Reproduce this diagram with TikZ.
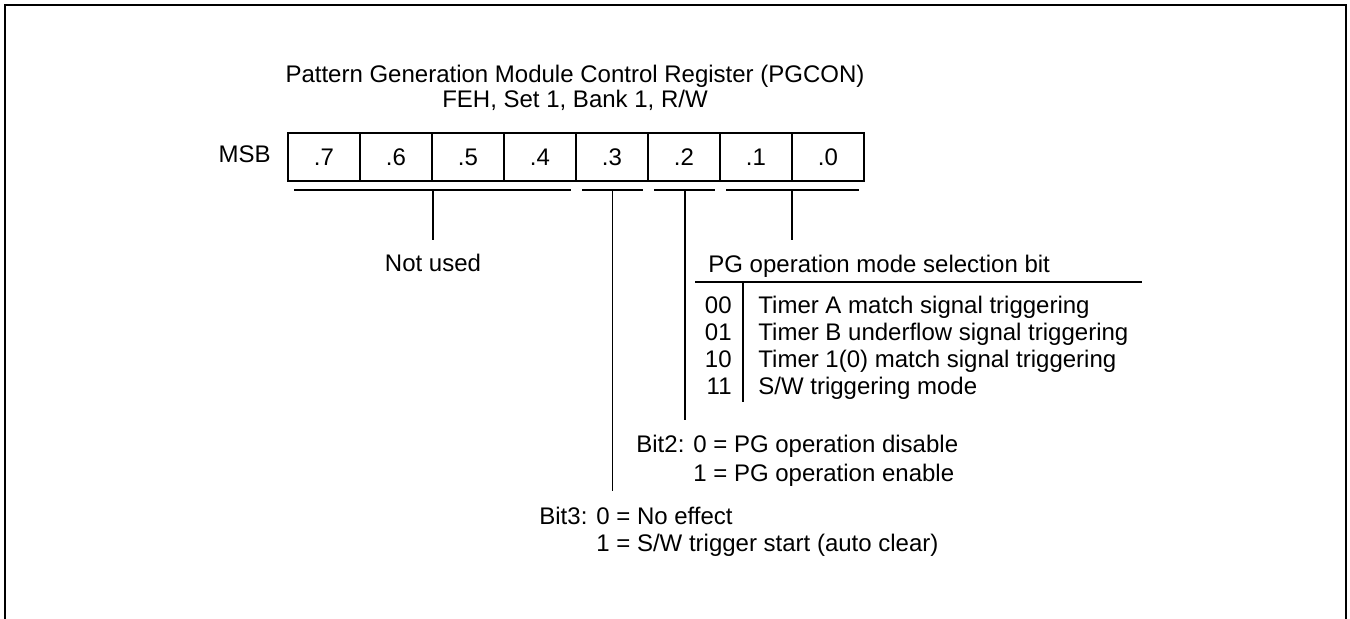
\documentclass[tikz,border=0pt]{standalone}
\usepackage{fontspec}
\setmainfont{Liberation Sans}
\usetikzlibrary{positioning}

\begin{document}
\begin{tikzpicture}[x=0.5pt,y=-0.5pt,
    txt/.style={inner sep=0pt,font=\fontsize{12}{14}\selectfont},
    bitbox/.style={draw,line width=0.6pt,minimum width=36pt,minimum height=24pt,inner sep=0pt},
    bitrule/.style={line width=0.6pt}]
  \useasboundingbox (0,0) rectangle (1350,619);

  % Outer frame (open at the bottom)
  \draw[line width=1.2pt] (5,619) -- (5,5) -- (1346,5) -- (1346,619);

  % Title
  \node[txt,anchor=base] (title) at (575,83) {Pattern Generation Module Control Register (PGCON)};
  \node[txt,anchor=base] (addr) at (575,108) {FEH, Set 1, Bank 1, R/W};

  % Register bits
  \node[txt,anchor=base east] (msb) at (271,163) {MSB};
  \foreach \b [count=\i from 0] in {7,...,0}
    \node[txt,bitbox] (b\b) at (324+72*\i,157) {.\b};

  % Bit groups
  \coordinate (g74) at (433,190);
  \coordinate (g3) at (612.5,190);
  \coordinate (g2) at (685,190);
  \coordinate (g10) at (792,190);
  \draw[bitrule] (294,190) -- (571,190);
  \draw[bitrule] (582,190) -- (643,190);
  \draw[bitrule] (654,190) -- (715,190);
  \draw[bitrule] (726,190) -- (859,190);

  % Not used
  \node[txt,anchor=base] (unused) at (433,272) {Not used};
  \coordinate (e74) at (433,240);
  \draw[bitrule] (g74) -- (e74);

  % PG operation mode table
  \node[txt,anchor=base west] (mode) at (708,273) {PG operation mode selection bit};
  \coordinate (e10) at (792,240);
  \draw[bitrule] (g10) -- (e10);
  \coordinate (hl) at (695,282);
  \coordinate (hr) at (1142,282);
  \coordinate (vt) at (743,282);
  \coordinate (vb) at (743,402);
  \draw[bitrule] (hl) -- (hr);
  \draw[bitrule] (vt) -- (vb);
  \foreach \c/\d [count=\r from 0] in {00/{Timer A match signal triggering},
      01/{Timer B underflow signal triggering},
      10/{Timer 1(0) match signal triggering},
      11/{S/W triggering mode}}{
    \node[txt,anchor=base east] (code\r) at (732,314+27*\r) {\c};
    \node[txt,anchor=base west] (desc\r) at (758,314+27*\r) {\d};
  }

  % Bit 2
  \coordinate (e2) at (685,420);
  \draw[bitrule] (g2) -- (e2);
  \node[txt,anchor=base west] (bit2a) at (636,453) {Bit2: 0 = PG operation disable};
  \node[txt,anchor=base west] (bit2b) at (636,482) {\phantom{Bit2: }1 = PG operation enable};

  % Bit 3
  \coordinate (e3) at (612.5,491);
  \draw[bitrule] (g3) -- (e3);
  \node[txt,anchor=base west] (bit3a) at (539,525) {Bit3: 0 = No effect};
  \node[txt,anchor=base west] (bit3b) at (539,552) {\phantom{Bit3: }1 = S/W trigger start (auto clear)};
\end{tikzpicture}
\end{document}
